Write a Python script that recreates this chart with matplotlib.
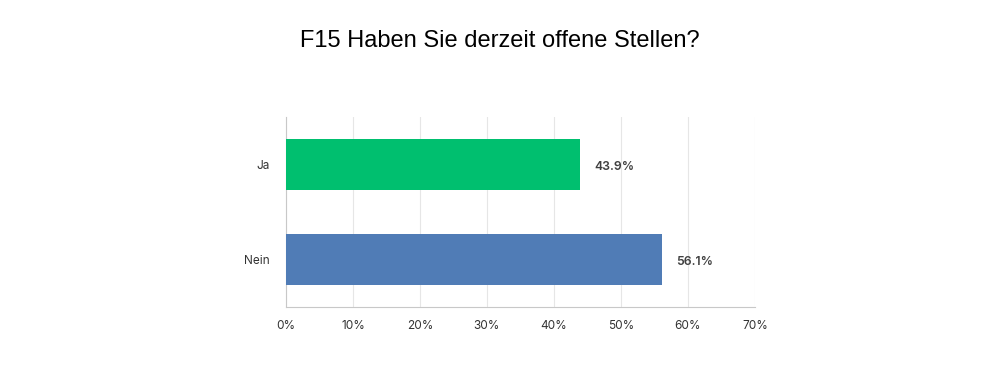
import matplotlib.pyplot as plt

categories = ['Ja', 'Nein']
values = [43.9, 56.1]
colors = ['#00bf6f', '#507cb6']
ticks = [0, 10, 20, 30, 40, 50, 60, 70]

fig = plt.figure(figsize=(10, 3.8), dpi=100)
ax = fig.add_axes([0.286, 0.192, 0.469, 0.5])

ypos = [1, 0]
ax.barh(ypos, values, height=0.53, color=colors, zorder=3)
for y, v in zip(ypos, values):
    ax.text(v + 2.2, y - 0.025, f'{v:.1f}%', va='center', ha='left', fontsize=8.8,
            family='Inter', fontweight='semibold', color='#404040')

ax.set_xlim(0, 70)
ax.set_ylim(-0.5, 1.5)
ax.set_xticks(ticks)
ax.set_xticklabels([f'{t}%' for t in ticks], family='Inter', fontsize=8.5, color='#333333')
ax.set_yticks(ypos)
ax.set_yticklabels(categories, family='Inter', fontsize=8.5, color='#333333')
ax.tick_params(length=0, pad=9)
ax.tick_params(axis='y', pad=12)
ax.grid(axis='x', color='#e6e6e6', linewidth=0.8, zorder=0)
for s in ['top', 'right']:
    ax.spines[s].set_visible(False)
ax.spines['left'].set_color('#c8c8c8')
ax.spines['bottom'].set_color('#c8c8c8')

fig.text(0.5, 0.893, 'F15 Haben Sie derzeit offene Stellen?', ha='center', va='center',
         fontsize=17, family='Liberation Sans', color='#000000')

fig.savefig('out.png')
